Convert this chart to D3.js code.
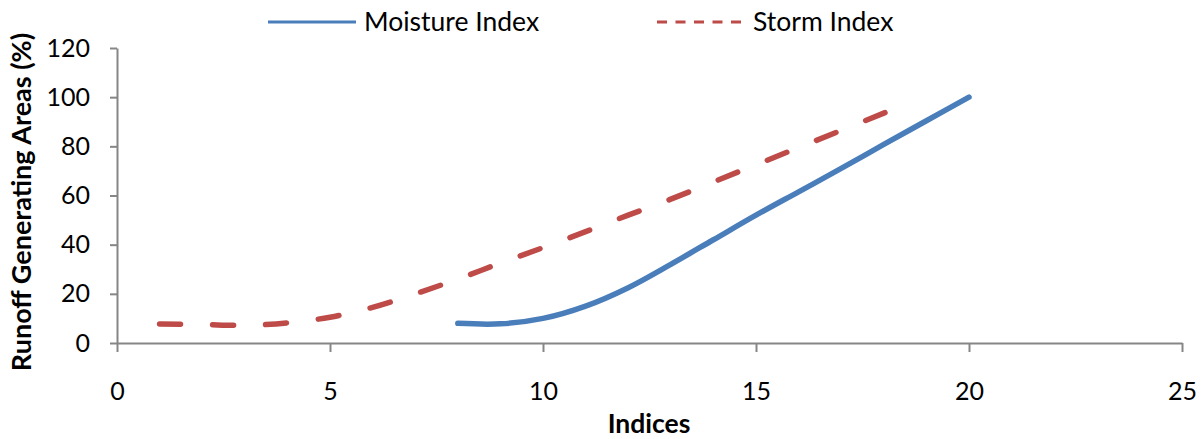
<!DOCTYPE html>
<html>
<head>
<meta charset="utf-8">
<script src="https://cdn.jsdelivr.net/npm/d3@7"></script>
<style>
  body { margin: 0; background: #fff; }
  text { font-family: Lato, "Open Sans", sans-serif; fill: #000; }
</style>
</head>
<body>
<div id="chart"></div>
<script>
// data
const moistureX = [8, 9, 10, 11, 12, 13, 14, 15, 16, 17, 18, 19, 20];
const moistureY = [8, 7.8, 10, 15, 22.5, 32, 42, 52, 61.5, 71, 80.8, 90.4, 100];
const stormX = [1, 2, 3, 4, 5, 6, 7, 8, 9, 10, 11, 12, 13, 14, 15, 16, 17, 18, 18.5];
const stormY = [7.7, 7.5, 7.2, 8.2, 10.5, 14.5, 20, 26, 32.5, 38.8, 45.3, 52, 58.5, 65.5, 72.5, 79.5, 86.5, 93.5, 97];
const xTicks = [0, 5, 10, 15, 20, 25];
const yTicks = [0, 20, 40, 60, 80, 100, 120];
const seriesNames = ['Moisture Index', 'Storm Index'];

const width = 1204, height = 439;
const axisColor = '#868686';
const blue = '#4A7EBB', red = '#BE4B48';

const svg = d3.select('#chart').append('svg')
    .attr('width', width)
    .attr('height', height);

const x = d3.scaleLinear().domain([0, 25]).range([117, 1182]);
const y = d3.scaleLinear().domain([0, 120]).range([343, 48]);

// axes
const xAxis = svg.append('g')
    .attr('transform', `translate(0, ${y(0)})`)
    .call(d3.axisBottom(x).tickValues(xTicks).tickSize(9).tickSizeOuter(0).tickPadding(30));
const yAxis = svg.append('g')
    .attr('transform', `translate(${x(0)}, 0)`)
    .call(d3.axisLeft(y).tickValues(yTicks).tickSize(7).tickSizeOuter(0).tickPadding(20));

[xAxis, yAxis].forEach(g => {
  g.selectAll('path, line').attr('stroke', axisColor).attr('stroke-width', 2);
  g.selectAll('text')
    .attr('fill', '#000')
    .style('font-size', '25px')
    .style('font-family', 'Lato, sans-serif');
});
xAxis.selectAll('text').attr('dy', '0.71em');

// lines
const line = d3.line()
    .x(d => x(d[0]))
    .y(d => y(d[1]))
    .curve(d3.curveCatmullRom.alpha(0.5));

const moisture = moistureX.map((v, i) => [v, moistureY[i]]);
const storm = stormX.map((v, i) => [v, stormY[i]]);

svg.append('path')
    .datum(storm)
    .attr('d', line)
    .attr('fill', 'none')
    .attr('stroke', red)
    .attr('stroke-width', 5.5)
    .attr('stroke-linecap', 'round')
    .attr('stroke-dasharray', '21,32');

svg.append('path')
    .datum(moisture)
    .attr('d', line)
    .attr('fill', 'none')
    .attr('stroke', blue)
    .attr('stroke-width', 5.5)
    .attr('stroke-linecap', 'round');

// axis titles
svg.append('text')
    .attr('x', 649)
    .attr('y', 433)
    .attr('text-anchor', 'middle')
    .style('font-size', '26.5px')
    .style('font-weight', 'bold')
    .text('Indices');

svg.append('text')
    .attr('transform', `translate(31, 202) rotate(-90)`)
    .attr('text-anchor', 'middle')
    .style('font-size', '27px')
    .style('font-weight', 'bold')
    .text('Runoff Generating Areas (%)');

// legend
const legend = svg.append('g');
const legendItems = [
  {name: seriesNames[0], color: blue, dash: null, x0: 268},
  {name: seriesNames[1], color: red, dash: '10,8.5', x0: 657}
];
legendItems.forEach(d => {
  legend.append('line')
      .attr('x1', d.x0).attr('x2', d.x0 + 88)
      .attr('y1', 22).attr('y2', 22)
      .attr('stroke', d.color)
      .attr('stroke-width', 3)
      .attr('stroke-dasharray', d.dash);
  legend.append('text')
      .attr('x', d.x0 + 96)
      .attr('y', 22)
      .attr('dy', '0.35em')
      .style('font-size', '26.5px')
      .text(d.name);
});
</script>
</body>
</html>
